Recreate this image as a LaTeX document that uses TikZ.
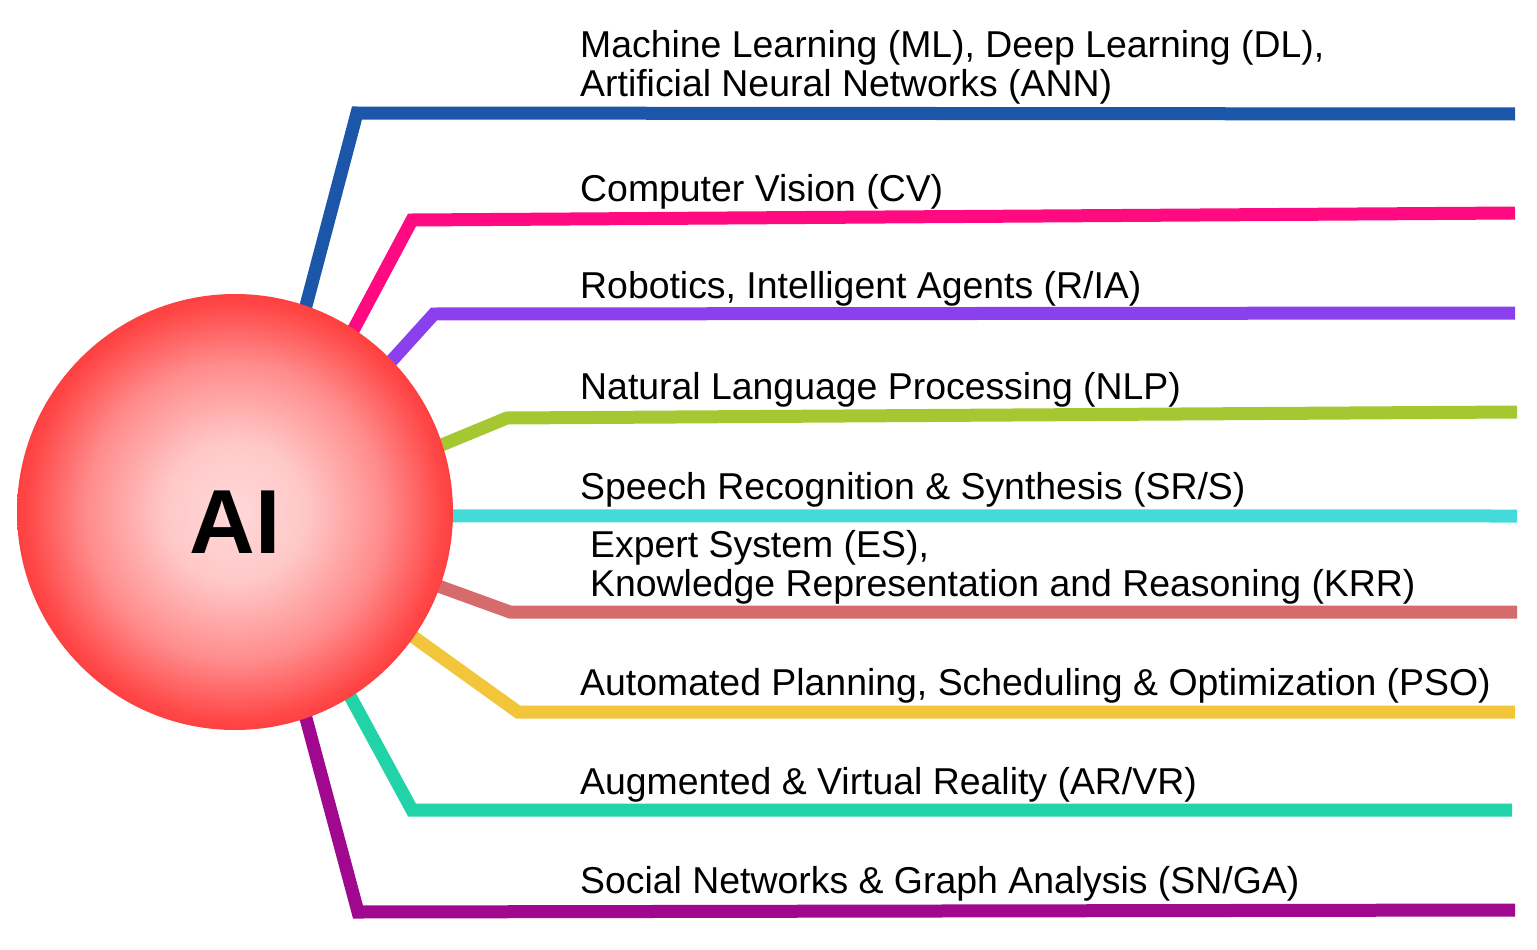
\documentclass[tikz,border=0pt]{standalone}
\usepackage{fontspec}
\setmainfont{Liberation Sans}
\usetikzlibrary{backgrounds}
\definecolor{ballin}{RGB}{255,216,216}
\definecolor{ballhi}{RGB}{255,200,200}
\definecolor{ballmid}{RGB}{255,140,140}
\definecolor{ballout}{RGB}{255,70,70}
\definecolor{ballrim}{RGB}{246,48,48}
\pgfdeclareradialshading{aiball}{\pgfpoint{0bp}{0bp}}{color(0bp)=(ballin); color(8bp)=(ballhi); color(17bp)=(ballmid); color(24bp)=(ballout); color(28bp)=(ballrim); color(50bp)=(ballrim)}
\definecolor{cA}{RGB}{28,86,168}
\definecolor{cB}{RGB}{255,10,128}
\definecolor{cC}{RGB}{139,64,238}
\definecolor{cD}{RGB}{165,200,50}
\definecolor{cE}{RGB}{68,218,218}
\definecolor{cF}{RGB}{214,107,107}
\definecolor{cG}{RGB}{243,197,58}
\definecolor{cH}{RGB}{34,211,167}
\definecolor{cI}{RGB}{160,8,142}
\begin{document}
\begin{tikzpicture}[x=1pt,y=-1pt,
  branch/.style={line width=13pt,line join=miter,line cap=butt},
  lbl/.style={anchor=base west,inner sep=0pt,align=left,font=\fontsize{37.4}{39}\selectfont}]
\useasboundingbox (0,0) rectangle (1537,950);
\node[circle,minimum size=436pt,inner sep=0pt,shading=aiball] (ai) at (235,512) {};
\node[anchor=base,inner sep=0pt,font=\fontsize{91}{91}\selectfont\bfseries] (ait) at (235,553) {AI};
% bends and ends
\coordinate (b1) at (357,113); \coordinate (e1) at (1515,114);
\coordinate (b2) at (412,220); \coordinate (e2) at (1515,213);
\coordinate (b3) at (434,314); \coordinate (e3) at (1515,313);
\coordinate (b4) at (507,418); \coordinate (e4) at (1517,412);
\coordinate (e5) at (1517,516);
\coordinate (b6) at (510,612); \coordinate (e6) at (1517,612);
\coordinate (b7) at (518,712); \coordinate (e7) at (1515,712);
\coordinate (b8) at (412,810); \coordinate (e8) at (1512,810);
\coordinate (b9) at (358,912); \coordinate (e9) at (1515,910);
\begin{scope}[on background layer]
\draw[branch,cA] (ai.center) -- (ai.71.7) -- (b1) -- (e1);
\draw[branch,cB] (ai.center) -- (ai.57.6) -- (b2) -- (e2);
\draw[branch,cC] (ai.center) -- (ai.44.6) -- (b3) -- (e3);
\draw[branch,cD] (ai.center) -- (ai.18.6) -- (b4) -- (e4);
\draw[branch,cE] (ai.center) -- (ai.-1) -- (e5);
\draw[branch,cF] (ai.center) -- (ai.-20.2) -- (b6) -- (e6);
\draw[branch,cG] (ai.center) -- (ai.-35.5) -- (b7) -- (e7);
\draw[branch,cH] (ai.center) -- (ai.-58.8) -- (b8) -- (e8);
\draw[branch,cI] (ai.center) -- (ai.-71.6) -- (b9) -- (e9);
\end{scope}
\node[lbl] (t1) at (580,96) {Machine Learning (ML), Deep Learning (DL),\\Artificial Neural Networks (ANN)};
\node[lbl] (t2) at (580,201) {Computer Vision (CV)};
\node[lbl] (t3) at (580,298) {Robotics, Intelligent Agents (R/IA)};
\node[lbl] (t4) at (580,399) {Natural Language Processing (NLP)};
\node[lbl] (t5) at (580,499) {Speech Recognition \& Synthesis (SR/S)};
\node[lbl] (t6) at (590,596) {Expert System (ES),\\Knowledge Representation and Reasoning (KRR)};
\node[lbl] (t7) at (580,695) {Automated Planning, Scheduling \& Optimization (PSO)};
\node[lbl] (t8) at (580,794) {Augmented \& Virtual Reality (AR/VR)};
\node[lbl] (t9) at (580,893) {Social Networks \& Graph Analysis (SN/GA)};
\end{tikzpicture}
\end{document}
